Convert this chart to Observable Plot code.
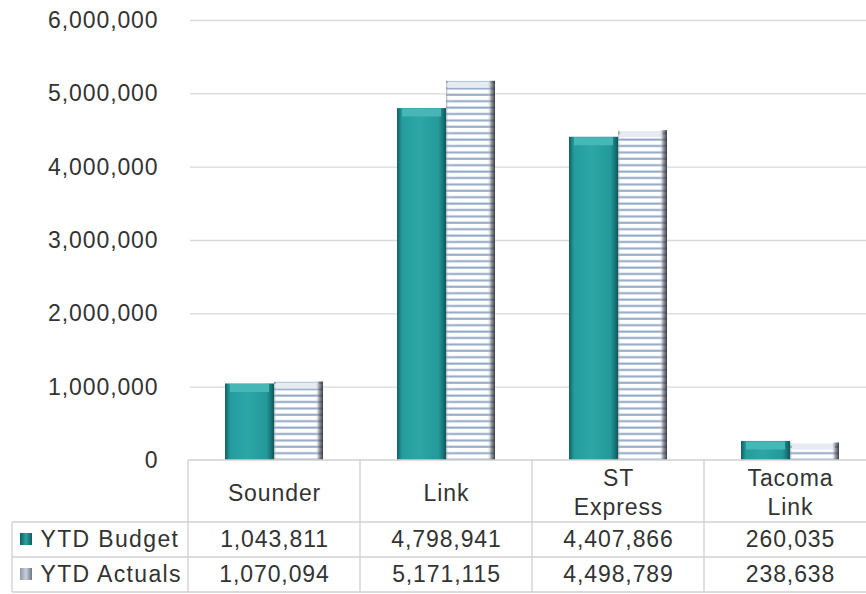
<!DOCTYPE html>
<html><head><meta charset="utf-8">
<script src="https://cdn.jsdelivr.net/npm/d3@7"></script>
<script src="https://cdn.jsdelivr.net/npm/@observablehq/plot@0.6"></script>
<style>
body{margin:0;background:#fff;}
svg{display:block;overflow:hidden}
svg text{letter-spacing:0.9px}
svg .rowlab text, svg text.rowlab{letter-spacing:1.35px}
</style>
</head><body><div id="chart"></div>
<script>
const categories = ["Sounder", "Link", "ST Express", "Tacoma Link"];
const categoryLabels = ["Sounder", "Link", "ST\nExpress", "Tacoma\nLink"];
const budget = [1043811, 4798941, 4407866, 260035];
const actuals = [1070094, 5171115, 4498789, 238638];
const seriesNames = ["YTD Budget", "YTD Actuals"];
const yTicks = [0, 1000000, 2000000, 3000000, 4000000, 5000000, 6000000];

const rows = categories.map((c, i) => ({category: c, label: categoryLabels[i], budget: budget[i], actual: actuals[i]}));
const fmt = d3.format(",");
const textColor = "#333333";
const lineColor = "#d0d0d0";
const fs = 23;

const tableMark = (index, scales, values, dims) => {
  const g = d3.create("svg:g").attr("stroke", lineColor).attr("stroke-width", 1.3).attr("fill", "none");
  const bw = scales.x.bandwidth ? scales.x.bandwidth() : 172;
  const edges = categories.map(c => scales.x(c));
  edges.push(edges[edges.length - 1] + bw);
  const top = dims.height - dims.marginBottom;
  const right = edges[edges.length - 1];
  const rowY = [top + 62, top + 97, top + 132];
  g.append("line").attr("x1", edges[0]).attr("x2", right).attr("y1", top).attr("y2", top);
  rowY.forEach(y => g.append("line").attr("x1", 12).attr("x2", right).attr("y1", y).attr("y2", y));
  g.append("line").attr("x1", 12).attr("x2", 12).attr("y1", rowY[0]).attr("y2", rowY[2]);
  edges.forEach(x => g.append("line").attr("x1", x).attr("x2", x).attr("y1", top).attr("y2", rowY[2]));
  // legend keys
  g.append("rect").attr("x", 20).attr("y", rowY[0] + 11).attr("width", 12).attr("height", 12)
    .attr("fill", "url(#tealKey)").attr("stroke", "none");
  g.append("rect").attr("x", 20).attr("y", rowY[1] + 11).attr("width", 12).attr("height", 12)
    .attr("fill", "url(#grayKey)").attr("stroke", "none");
  return g.node();
};

const textOpts = {frameAnchor: "bottom", lineAnchor: "middle", fill: textColor, fontSize: fs};

const chart = Plot.plot({
  width: 866,
  height: 594,
  marginLeft: 188,
  marginRight: 0,
  marginTop: 20,
  marginBottom: 134,
  style: {fontFamily: "'Liberation Sans', Arial, sans-serif", fontSize: fs + "px", color: textColor, background: "#fff"},
  x: {domain: categories, range: [188, 876], padding: 0, axis: null},
  y: {domain: [0, 6000000], axis: null},
  marks: [
    Plot.gridY(yTicks.filter(t => t > 0), {stroke: "#d9d9d9", strokeOpacity: 1, strokeWidth: 1.3, insetLeft: 2}),
    Plot.axisY(yTicks, {tickSize: 0, tickPadding: 30, tickFormat: fmt, fontSize: fs, fill: textColor}),
    // budget bars
    Plot.barY(rows, {x: "category", y: "budget", fill: "url(#tealGrad)", insetLeft: 37, insetRight: 86}),
    Plot.tickY(rows, {x: "category", y: "budget", stroke: "#47b6b6", strokeWidth: 8, dy: 4, insetLeft: 42, insetRight: 91}),
    // actuals bars
    Plot.barY(rows, {x: "category", y: "actual", fill: "url(#stripes)", insetLeft: 86, insetRight: 37}),
    Plot.tickY(rows, {x: "category", y: "actual", stroke: "#e6ebf1", strokeWidth: 6, dy: 3.5, insetLeft: 88, insetRight: 41}),
    Plot.barY(rows, {x: "category", y: "actual", fill: "url(#edgeGrad)", insetLeft: 86, insetRight: 37}),
    // table
    tableMark,
    Plot.text(rows, {...textOpts, x: "category", text: "label", dy: 31, lineHeight: 1.25}),
    Plot.text(rows, {...textOpts, x: "category", text: d => fmt(d.budget), dy: 79.5}),
    Plot.text(rows, {...textOpts, x: "category", text: d => fmt(d.actual), dy: 114.5}),
    Plot.text([seriesNames[0]], {...textOpts, className: "rowlab", text: d => d, frameAnchor: "bottom-left", dx: -148, dy: 79.5, textAnchor: "start"}),
    Plot.text([seriesNames[1]], {...textOpts, className: "rowlab", text: d => d, frameAnchor: "bottom-left", dx: -148, dy: 114.5, textAnchor: "start"})
  ]
});

const defs = d3.select(chart).insert("defs", ":first-child");
const tg = defs.append("linearGradient").attr("id", "tealGrad").attr("x1", 0).attr("x2", 1).attr("y1", 0).attr("y2", 0);
[[0, "#0f5f61"], [0.1, "#249c9d"], [0.45, "#2ca6a6"], [0.85, "#23999a"], [0.94, "#177577"], [1, "#0d5557"]]
  .forEach(([o, c]) => tg.append("stop").attr("offset", o).attr("stop-color", c));
const tk = defs.append("linearGradient").attr("id", "tealKey").attr("x1", 0).attr("x2", 1);
[[0, "#0f5f61"], [0.5, "#2aa3a3"], [1, "#0f5f61"]].forEach(([o, c]) => tk.append("stop").attr("offset", o).attr("stop-color", c));
const gk = defs.append("linearGradient").attr("id", "grayKey").attr("x1", 0).attr("x2", 1);
[[0, "#8c98a8"], [0.5, "#c8d0da"], [1, "#6c7684"]].forEach(([o, c]) => gk.append("stop").attr("offset", o).attr("stop-color", c));
const pat = defs.append("pattern").attr("id", "stripes").attr("patternUnits", "userSpaceOnUse").attr("width", 8).attr("height", 6.4);
pat.append("rect").attr("width", 8).attr("height", 6.4).attr("fill", "#ffffff");
pat.append("rect").attr("y", 4.2).attr("width", 8).attr("height", 2).attr("fill", "#8ea6c5");
const eg = defs.append("linearGradient").attr("id", "edgeGrad").attr("x1", 0).attr("x2", 1).attr("y1", 0).attr("y2", 0);
[[0, "rgba(110,120,135,0.55)"], [0.07, "rgba(255,255,255,0)"], [0.84, "rgba(255,255,255,0)"], [0.92, "rgba(80,85,95,0.55)"], [1, "rgba(40,42,50,0.9)"]]
  .forEach(([o, c]) => eg.append("stop").attr("offset", o).attr("stop-color", c));

document.getElementById("chart").appendChild(chart);
</script>
</body></html>
